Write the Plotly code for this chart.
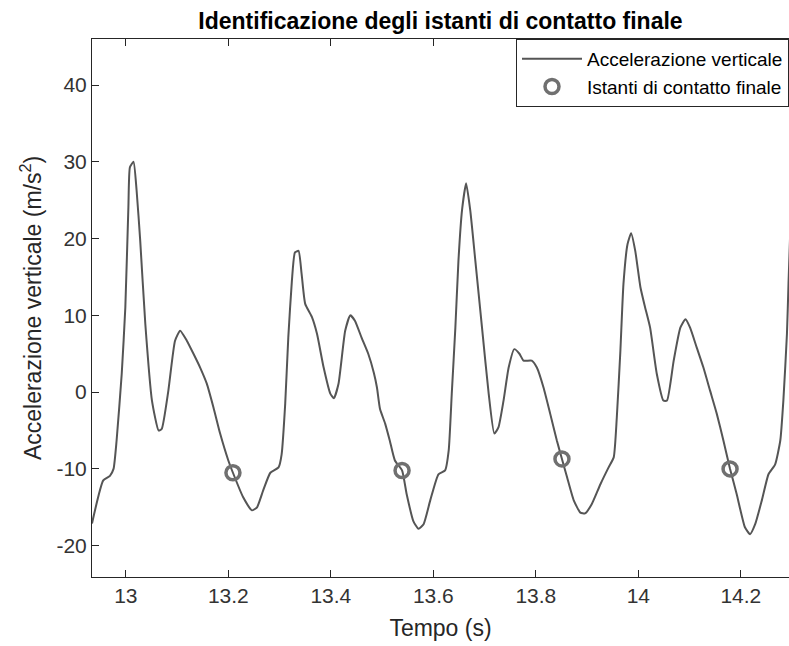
import plotly.graph_objects as go

# Vertical acceleration signal (time in s, acceleration in m/s^2)
tempo = [
    12.934, 12.956, 12.969, 12.976, 12.982, 12.992, 12.999, 13.005, 13.008, 13.015,
    13.021, 13.028, 13.038, 13.051, 13.064, 13.070, 13.083, 13.096, 13.106, 13.119,
    13.132, 13.145, 13.158, 13.171, 13.184, 13.200, 13.209, 13.229, 13.246, 13.256,
    13.268, 13.282, 13.298, 13.304, 13.311, 13.317, 13.324, 13.330, 13.337, 13.343,
    13.350, 13.363, 13.373, 13.386, 13.399, 13.406, 13.415, 13.428, 13.438, 13.447,
    13.460, 13.473, 13.484, 13.490, 13.496, 13.506, 13.515, 13.525, 13.539, 13.548,
    13.561, 13.571, 13.581, 13.594, 13.610, 13.623, 13.630, 13.636, 13.643, 13.649,
    13.656, 13.664, 13.672, 13.682, 13.695, 13.708, 13.719, 13.727, 13.737, 13.747,
    13.758, 13.768, 13.776, 13.792, 13.802, 13.815, 13.828, 13.841, 13.851, 13.861,
    13.874, 13.887, 13.896, 13.909, 13.926, 13.942, 13.952, 13.958, 13.965, 13.971,
    13.979, 13.986, 13.994, 14.004, 14.013, 14.023, 14.036, 14.049, 14.056, 14.069,
    14.082, 14.092, 14.101, 14.114, 14.127, 14.140, 14.153, 14.166, 14.179, 14.192,
    14.208, 14.218, 14.228, 14.241, 14.254, 14.267, 14.277, 14.283, 14.290, 14.293,
    14.298,
]
accelerazione = [
    -17.1, -11.5, -10.9, -10.0, -6.3, 2.4, 11.0, 24.1, 29.3, 30.0,
    26.3, 19.8, 8.9, -1.1, -5.0, -4.8, 0.2, 6.7, 8.0, 6.7,
    5.0, 3.2, 1.1, -2.0, -5.4, -8.9, -10.5, -13.7, -15.4, -15.0,
    -12.8, -10.5, -9.8, -8.1, -1.5, 7.1, 14.5, 18.2, 18.4, 15.4,
    11.5, 9.8, 7.6, 3.2, -0.2, -0.8, 1.1, 8.0, 10.0, 9.3,
    7.1, 5.0, 2.5, 0.6, -2.2, -4.1, -6.3, -8.9, -10.2, -13.3,
    -16.8, -17.8, -17.2, -14.1, -10.7, -10.2, -7.6, -0.2, 8.4, 17.1,
    23.7, 27.2, 23.7, 17.1, 8.4, -0.2, -5.4, -4.6, -1.1, 3.2,
    5.6, 5.0, 4.1, 4.1, 3.2, 0.6, -2.8, -6.3, -8.7, -11.1,
    -14.1, -15.7, -15.8, -14.6, -12.0, -9.8, -8.5, -3.3, 5.4, 14.1,
    19.3, 20.7, 18.4, 13.7, 11.1, 8.4, 2.4, -1.1, -1.1, 4.1,
    8.4, 9.5, 8.4, 5.8, 3.2, 0.2, -2.8, -6.3, -10.0, -13.3,
    -17.6, -18.5, -17.2, -14.1, -10.7, -9.4, -6.3, -1.1, 7.6, 14.1,
    24.0,
]

# Detected final-contact instants
tempo_contatto = [13.209, 13.539, 13.851, 14.179]
acc_contatto = [-10.5, -10.2, -8.7, -10.0]

x_ticks = [13, 13.2, 13.4, 13.6, 13.8, 14, 14.2]
x_tick_text = ["13", "13.2", "13.4", "13.6", "13.8", "14", "14.2"]
y_ticks = [-20, -10, 0, 10, 20, 30, 40]
y_tick_text = ["-20", "-10", "0", "10", "20", "30", "40"]

x_range = [12.934, 14.294]
y_range = [-24.08, 46.0]

FONT = "Liberation Sans, Arial, Helvetica, sans-serif"
AX = "#262626"

fig = go.Figure()
fig.add_trace(go.Scatter(
    x=tempo, y=accelerazione, mode="lines",
    name="Accelerazione verticale",
    line=dict(color="#555555", width=2, shape="spline", smoothing=0.5),
))
fig.add_trace(go.Scatter(
    x=tempo_contatto, y=acc_contatto, mode="markers",
    name="Istanti di contatto finale",
    marker=dict(symbol="circle-open", size=14, color="#707070",
                line=dict(width=3.5, color="#707070")),
))

fig.update_layout(
    width=789, height=646,
    margin=dict(l=92, r=0, t=39, b=69),
    paper_bgcolor="white", plot_bgcolor="white",
    font=dict(family=FONT, color=AX),
    title=dict(
        text="<b>Identificazione degli istanti di contatto finale</b>",
        font=dict(size=23, color="#000000", family=FONT),
        x=0.5, xref="paper", xanchor="center",
        y=1 - 21 / 646, yref="container", yanchor="middle",
    ),
    xaxis=dict(
        range=x_range, tickvals=x_ticks, ticktext=x_tick_text,
        ticks="inside", ticklen=7, tickcolor=AX, tickwidth=1,
        showline=True, linecolor=AX, linewidth=1, mirror="ticks",
        showgrid=False, zeroline=False,
        tickfont=dict(size=21, color="#333333"),
        title=dict(text="Tempo (s)", font=dict(size=23, color=AX), standoff=13),
    ),
    yaxis=dict(
        range=y_range, tickvals=y_ticks, ticktext=y_tick_text,
        ticks="inside", ticklen=7, tickcolor=AX, tickwidth=1,
        showline=True, linecolor=AX, linewidth=1, mirror=False,
        showgrid=False, zeroline=False,
        tickfont=dict(size=21, color="#333333"),
        title=dict(text="Accelerazione verticale (m/s<sup>2</sup>)",
                   font=dict(size=23, color=AX), standoff=8),
    ),
    yaxis2=dict(
        overlaying="y", side="right", matches="y",
        tickvals=y_ticks, ticks="inside", ticklen=7, tickcolor=AX,
        showticklabels=False, showline=False, showgrid=False, zeroline=False,
    ),
    legend=dict(
        x=1, y=1, xanchor="right", yanchor="top",
        bgcolor="white", bordercolor=AX, borderwidth=1,
        font=dict(size=19, color="#000000", family=FONT),
        tracegroupgap=0, itemwidth=60,
    ),
    showlegend=True,
)

fig.write_html("out.html")
